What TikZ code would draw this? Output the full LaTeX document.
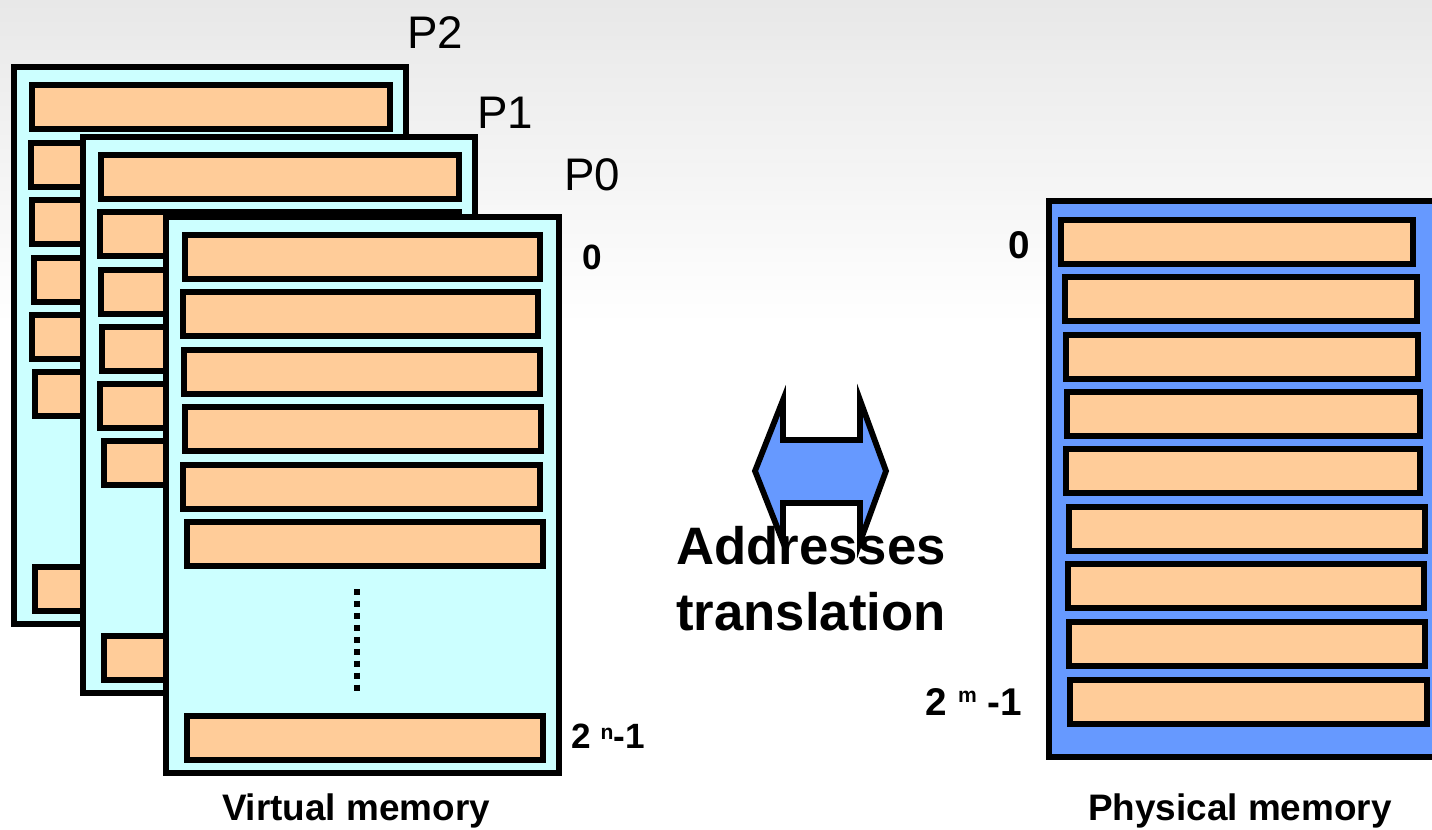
\documentclass[tikz,border=0pt]{standalone}
\usepackage{fontspec}
\setmainfont{Liberation Sans}
\usetikzlibrary{positioning}
\definecolor{pagecyan}{RGB}{204,255,255}
\definecolor{slotpeach}{RGB}{255,204,153}
\definecolor{physblue}{RGB}{102,153,255}
\definecolor{topgray}{RGB}{232,232,232}

\begin{document}
\begin{tikzpicture}[x=0.02cm,y=-0.02cm,
  space/.style={draw=black,line width=3.3pt,fill=pagecyan},
  slot/.style={draw=black,line width=3.1pt,fill=slotpeach},
  plabel/.style={anchor=base,font=\fontsize{26}{30}\selectfont},
  addr/.style={anchor=base,font=\fontsize{20}{24}\selectfont\bfseries},
  caption/.style={anchor=base,font=\fontsize{21}{25}\selectfont\bfseries},
  bigtext/.style={anchor=base,font=\fontsize{30}{36}\selectfont\bfseries}]

% Canvas and background
\useasboundingbox (0,0) rectangle (1432,829);
\clip (0,0) rectangle (1432,829);
\fill[white] (0,0) rectangle (1432,829);
\shade[top color=topgray,bottom color=white] (0,0) rectangle (1432,325);

% Address space of P2
\draw[space] (14,67) rectangle (406,624);
\foreach \xa/\ya in {32/85,31/143,32/200,34/258,32/315,35/372,35/567}
  \draw[slot] (\xa,\ya) rectangle (390,\ya+44);

% Address space of P1
\draw[space] (83,137) rectangle (475,693);
\foreach \xa/\ya in {101/155,100/212,101/270,102/327,100/384,104/441,104/636}
  \draw[slot] (\xa,\ya) rectangle (459,\ya+44);

% Address space of P0
\draw[space] (166,217) rectangle (559,773);
\foreach \xa/\xb/\ya in {185/540/235,183/538/292,184/540/350,185/541/407,183/540/465,187/543/522,187/543/716}
  \draw[slot] (\xa,\ya) rectangle (\xb,\ya+44);

% Dotted gap in P0
\draw[line width=3.4pt,dash pattern=on 3.4pt off 3.4pt] (357,589) -- (357,692);

% Process labels
\node[plabel] (p2) at (435,48) {P2};
\node[plabel] (p1) at (505,128) {P1};
\node[plabel] (p0) at (592,190) {P0};

% Virtual address bounds
\node[addr] (vzero) at (592,269) {0};
\node[addr] (vlast) at (608,748) {2 \raisebox{5pt}{\fontsize{12}{12}\selectfont n}-1};

% Physical memory
\draw[draw=black,line width=3.3pt,fill=physblue] (1049,201) rectangle (1460,757);
\foreach \xa/\xb/\ya in {1061/1413/220,1065/1417/277,1066/1418/335,1067/1420/392,1066/1420/449,1069/1425/507,1068/1424/564,1069/1425/622,1070/1427/680}
  \draw[slot] (\xa,\ya) rectangle (\xb,\ya+44);

% Physical address bounds
\node[addr,font=\fontsize{22}{26}\selectfont\bfseries] (pzero) at (1019,258) {0};
\node[addr,font=\fontsize{22}{26}\selectfont\bfseries] (plast) at (974,715) {2 \raisebox{7pt}{\fontsize{12}{12}\selectfont m} -1};

% Translation arrow
\filldraw[fill=physblue,draw=black,line width=3.3pt,line join=miter]
  (755,471) -- (783,400) -- (783,440) -- (860,440) -- (860,400) -- (886,471)
  -- (860,542) -- (860,503) -- (783,503) -- (783,542) -- cycle;

% Captions
\node[bigtext] (addrtop) at (811,564) {Addresses};
\node[bigtext] (addrbot) at (811,630) {translation};
\node[caption] (vcap) at (356,820) {Virtual memory};
\node[caption] (pcap) at (1240,820) {Physical memory};

\end{tikzpicture}
\end{document}
